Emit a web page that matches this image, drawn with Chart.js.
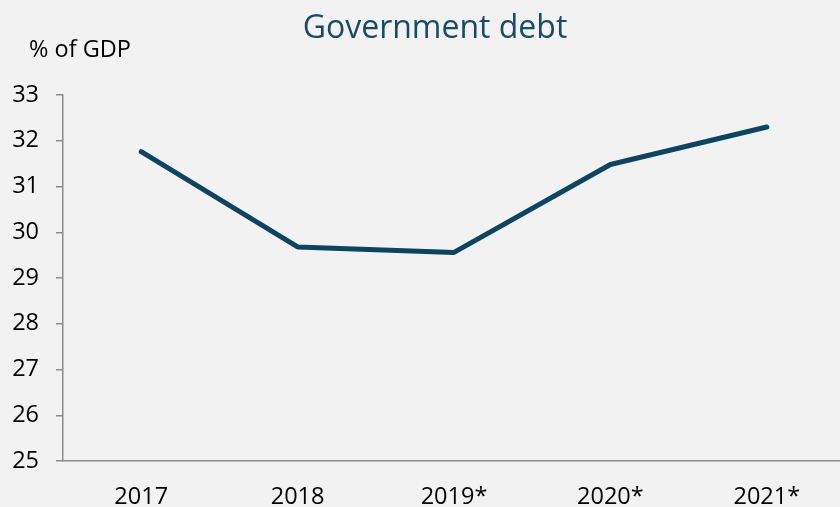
<!DOCTYPE html>
<html>
<head>
<meta charset="utf-8">
<script src="https://cdn.jsdelivr.net/npm/chart.js@4/dist/chart.umd.min.js"></script>
<style>
  html, body { margin: 0; padding: 0; background: #f2f2f2; overflow: hidden; }
  #wrap { width: 840px; height: 507px; overflow: hidden; }
  canvas { display: block; }
</style>
</head>
<body>
<div id="wrap"><canvas id="debtChart" width="850" height="507"></canvas></div>
<script>
// government debt, % of GDP (* = forecast)
const years = ["2017", "2018", "2019*", "2020*", "2021*"];
const debtShare = [31.76, 29.68, 29.56, 31.48, 32.3];
const yMin = 25;
const yMax = 33;

const titleText = "Government debt";
const unitText = "% of GDP";

// title and unit label are drawn by hand so they can sit off-centre
const headerText = {
  id: "headerText",
  afterDraw(chart) {
    const c = chart.ctx;
    c.save();
    c.textBaseline = "alphabetic";
    c.fillStyle = "#164c66";
    c.font = "32px 'Open Sans'";
    c.textAlign = "center";
    c.fillText(titleText, 435, 38);
    c.fillStyle = "#000";
    c.font = "23.5px 'Open Sans'";
    c.textAlign = "left";
    c.fillText(unitText, 29, 57);
    c.restore();
  }
};

const ctx = document.getElementById("debtChart").getContext("2d");

new Chart(ctx, {
  type: "line",
  data: {
    labels: years,
    datasets: [
      {
        data: debtShare,
        borderColor: "#0c4562",
        borderWidth: 5,
        borderCapStyle: "round",
        borderJoinStyle: "round",
        pointRadius: 0,
        tension: 0,
        fill: false,
      },
    ],
  },
  options: {
    responsive: false,
    animation: false,
    layout: {
      padding: { top: 95, right: 5, left: 0, bottom: 0 },
    },
    plugins: {
      legend: { display: false },
      title: { display: false },
      tooltip: { enabled: false },
    },
    scales: {
      x: {
        offset: true,
        afterFit(scale) {
          scale.height = 46;
        },
        grid: { display: false, drawTicks: false },
        border: { display: true, color: "#8c8c8c", width: 1.5 },
        ticks: {
          color: "#000",
          font: { family: "'Open Sans'", size: 23.5 },
          padding: 22,
          maxRotation: 0,
        },
      },
      y: {
        min: yMin,
        max: yMax,
        afterFit(scale) {
          scale.width = 63;
        },
        grid: {
          drawOnChartArea: false,
          drawTicks: true,
          tickLength: 7,
          color: "#8c8c8c",
          lineWidth: 1.5,
        },
        border: { display: true, color: "#8c8c8c", width: 1.5 },
        ticks: {
          stepSize: 1,
          color: "#000",
          font: { family: "'Open Sans'", size: 23.5 },
          padding: 17,
        },
      },
    },
  },
  plugins: [headerText],
});
</script>
</body>
</html>
